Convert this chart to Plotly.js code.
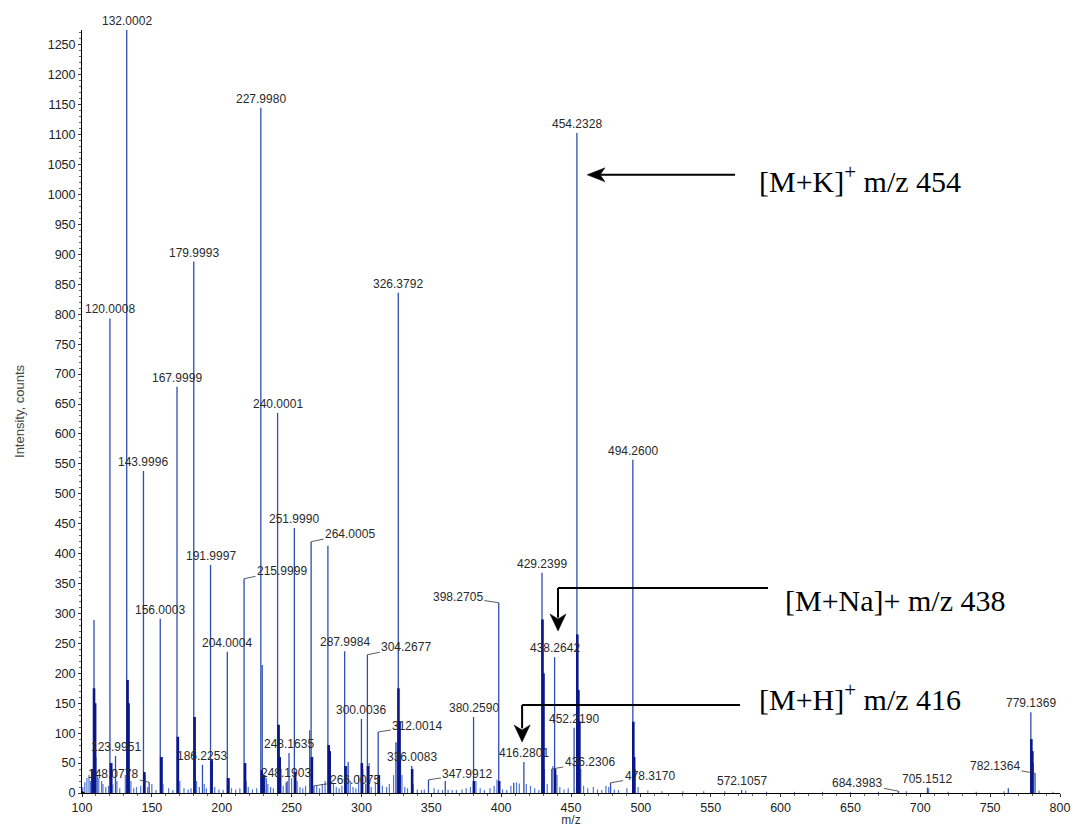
<!DOCTYPE html>
<html>
<head>
<meta charset="utf-8">
<script src="https://cdn.plot.ly/plotly-3.0.1.min.js"></script>
<style>html,body{margin:0;padding:0;background:#fff;}#chart{width:1074px;height:827px;}</style>
</head>
<body>
<div id="chart"></div>
<script>
// ---- data ----
const majorMz = [108.6,120.0008,123.9951,132.0002,143.9996,148.0778,156.0003,167.9999,179.9993,186.2253,191.9997,204.0004,215.9999,227.998,229,240.0001,246.1903,248.1635,251.999,263,264.0005,266.0075,276,287.9984,290.5,300.0036,304.2677,312.0014,325.5,326.3792,336.0083,347.9912,360,380.259,398.2705,409,416.2801,429.2399,436.2306,438.2642,452.219,454.2328,478.317,494.26,572.1057,684.3983,705.1512,763,779.1369,782.1364];
const majorInt = [289,793,62,1275,538,18,291,679,888,47,381,236,358,1145,214,635,18,67,443,105,420,12,413,237,52,124,231,102,85,836,45,22,20,127,318,17,52,368,40,227,109,1103,17,557,5,3,9,8,135,33];
const peakLabels = ['','120.0008','123.9951','132.0002','143.9996','148.0778','156.0003','167.9999','179.9993','186.2253','191.9997','204.0004','215.9999','227.9980','','240.0001','248.1903','248.1635','251.9990','','264.0005','266.0075','','287.9984','','300.0036','304.2677','312.0014','','326.3792','336.0083','347.9912','','380.2590','398.2705','','416.2801','429.2399','436.2306','438.2642','452.2190','454.2328','478.3170','494.2600','572.1057','684.3983','705.1512','','779.1369','782.1364'];

const baseMz = [107.5,108.6,109.4,120.7,132.6,133.3,144.6,156.7,168.6,180.6,192.8,204.5,216.7,228.6,230,240.7,241.5,252.6,264.5,276.6,277.3,288.6,300.3,304.7,312.4,326.5,327.3,336.3,380.5,398.6,429.6,430.3,438.6,454.5,455.3,456,494.6,495.2,779.5,780.2];
const baseInt = [40,175,150,50,189,150,35,60,94,127,55,25,50,38,30,114,60,35,60,80,70,45,50,45,30,175,120,40,20,20,290,200,40,265,172,120,119,60,90,70];

const minorMz = [100.5,102,103.5,105,106,107,110,111,112,114,115,117,119,121.5,122,125,127,131,134,135,137,139,142,145,147,150,153,157.5,158,162,165,170,173,176,178,182,184,187.5,189,195,198,201,205.5,207,210,213,217.5,219,222,225,231,232,233,235,237,242.5,244,247,250,254,256,258,260,265,268,270,272,274,278,280,282,284,286,289.5,292,294,296,298,301,303,305.5,307,310,313,315,318,320,323,324.5,328,329,331,333,337,340,343,345,352,355,358,362,365,368,372,375,378,382,385,388,392,395,397,401,404,407,411,413,418,421,424,427,431,433,437,440,442,445,448,457,459,462,466,469,472,475,477,481,484,490,496,498,505,515,530,545,560,575,590,610,630,650,670,690,706,720,740,760,781,785,795];
const minorInt = [10,18,25,30,20,40,60,30,25,20,15,10,12,50,15,20,8,30,40,20,8,10,12,30,10,15,5,60,15,8,5,20,8,6,8,20,10,15,8,10,6,5,25,8,6,8,20,10,6,8,30,25,15,10,8,40,12,20,25,20,10,8,12,60,12,8,15,20,30,15,10,8,12,45,20,10,8,30,40,15,50,10,15,30,12,10,15,30,85,60,30,10,8,15,6,5,6,8,6,5,6,5,5,6,8,10,20,8,5,8,12,22,6,5,12,18,16,15,12,8,5,40,15,45,30,10,6,8,40,12,8,10,6,5,12,10,6,5,8,40,10,4,3,3,3,3,4,2,2,2,2,2,3,8,2,2,3,50,4,2];

// ion callouts text
const ionText = ['[M+K]<sup>+</sup> m/z 454', '[M+Na]+ m/z 438', '[M+H]<sup>+</sup> m/z 416'];

// ---- styles ----
const labelFont = {family:'Liberation Sans, Arial, sans-serif', size:12, color:'#2a2a2a'};
const noteFont = {family:'Liberation Serif, Times New Roman, serif', size:30, color:'#000'};
// leader-line offsets (pixels) for labels that sit beside their peak
const leader = {
  '148.0778':[-36,-8], '215.9999':[38,-8], '264.0005':[39,-8], '266.0075':[41,-6],
  '304.2677':[39,-8], '312.0014':[39,-6], '347.9912':[39,-6], '398.2705':[-41,-6],
  '436.2306':[38,-7], '478.3170':[39,-7], '684.3983':[-41,-8], '782.1364':[-40,-7]
};

function sticks(mz, inten){
  const x=[], y=[];
  mz.forEach((m,i)=>{ x.push(m,m,null); y.push(0,inten[i],null); });
  return {x, y};
}

const sMinor = sticks(minorMz, minorInt);
const sMajor = sticks(majorMz, majorInt);
const sBase = sticks(baseMz, baseInt);

const traces = [
  {type:'scatter', mode:'lines', x:sMinor.x, y:sMinor.y, line:{color:'#4f74d2', width:1.2}, hoverinfo:'skip', showlegend:false},
  {type:'scatter', mode:'lines', x:sMajor.x, y:sMajor.y, line:{color:'#2f4db3', width:1.3}, hoverinfo:'skip', showlegend:false},
  {type:'scatter', mode:'lines', x:sBase.x, y:sBase.y, line:{color:'#0a1789', width:2.6}, hoverinfo:'skip', showlegend:false}
];

const annotations = [];
majorMz.forEach((m,i)=>{
  const t = peakLabels[i];
  if(!t) return;
  if(leader[t]){
    annotations.push({x:m, y:majorInt[i], xref:'x', yref:'y', text:t, font:labelFont,
      showarrow:true, arrowhead:0, arrowwidth:0.8, arrowcolor:'#333', standoff:0,
      ax:leader[t][0], ay:leader[t][1]});
  } else {
    annotations.push({x:m, y:majorInt[i], xref:'x', yref:'y', text:t, font:labelFont,
      showarrow:false, xanchor:'center', yanchor:'bottom', yshift:0});
  }
});

// ion callout texts
annotations.push({x:583.2, y:1026, xref:'x', yref:'y', text:ionText[0], font:noteFont, showarrow:false, xanchor:'left', yanchor:'middle'});
annotations.push({x:601.8, y:322.5, xref:'x', yref:'y', text:ionText[1], font:noteFont, showarrow:false, xanchor:'left', yanchor:'middle'});
annotations.push({x:583.2, y:160, xref:'x', yref:'y', text:ionText[2], font:noteFont, showarrow:false, xanchor:'left', yanchor:'middle'});

const blk = {color:'#000', width:2};
const headLeft = 'M0,0 L18,7 L13,0 L18,-7 Z';
const headDown = 'M0,0 L-8,17 L0,12 L8,17 Z';
function head(x, y, path){
  return {type:'path', xref:'x', yref:'y', xsizemode:'pixel', ysizemode:'pixel', xanchor:x, yanchor:y,
    path:path, fillcolor:'#000', line:{color:'#000', width:0.5}};
}
const shapes = [
  // [M+K]+ arrow
  {type:'line', xref:'x', yref:'y', x0:470, x1:567.4, y0:1033, y1:1033, line:blk},
  head(461.5, 1033, headLeft),
  // [M+Na]+ elbow arrow
  {type:'line', xref:'x', yref:'y', x0:440.7, x1:591, y0:342.6, y1:342.6, line:blk},
  {type:'line', xref:'x', yref:'y', x0:440.7, x1:440.7, y0:342.6, y1:293, line:blk},
  head(440.7, 270.7, headDown),
  // [M+H]+ elbow arrow
  {type:'line', xref:'x', yref:'y', x0:415, x1:571, y0:147, y1:147, line:blk},
  {type:'line', xref:'x', yref:'y', x0:415, x1:415, y0:147, y1:108, line:blk},
  head(415, 85.2, headDown),
  // small origin marker
  {type:'path', xref:'x', yref:'y', xsizemode:'pixel', ysizemode:'pixel', xanchor:100, yanchor:0,
    path:'M-5,5 L3,0 L-5,-5 Z', fillcolor:'#000', line:{color:'#000', width:0.5}}
];

const tickFont = {family:'Liberation Sans, Arial, sans-serif', size:12.5, color:'#222'};

const layout = {
  width:1074, height:827,
  margin:{l:82, r:14, t:30, b:34},
  paper_bgcolor:'#fff', plot_bgcolor:'#fff',
  showlegend:false,
  xaxis:{range:[100,800], tick0:100, dtick:50, showgrid:false, zeroline:false,
    showline:true, linecolor:'#000', linewidth:1, ticks:'outside', ticklen:3, tickcolor:'#333',
    tickfont:tickFont, automargin:false,
    minor:{dtick:10, ticks:'outside', ticklen:2, tickcolor:'#666'},
    title:{text:'m/z', font:{family:'Liberation Sans, Arial, sans-serif', size:12, color:'#333'}, standoff:2}},
  yaxis:{range:[0,1275], tick0:0, dtick:50, showgrid:false, zeroline:false,
    showline:true, linecolor:'#000', linewidth:1, ticks:'outside', ticklen:3, tickcolor:'#333',
    tickfont:tickFont, automargin:false,
    minor:{dtick:10, ticks:'outside', ticklen:2, tickcolor:'#666'},
    title:{text:'Intensity, counts', font:{family:'Liberation Sans, Arial, sans-serif', size:13, color:'#444'}, standoff:20}},
  annotations:annotations,
  shapes:shapes
};

Plotly.newPlot('chart', traces, layout, {displayModeBar:false, staticPlot:true});
</script>
</body>
</html>
